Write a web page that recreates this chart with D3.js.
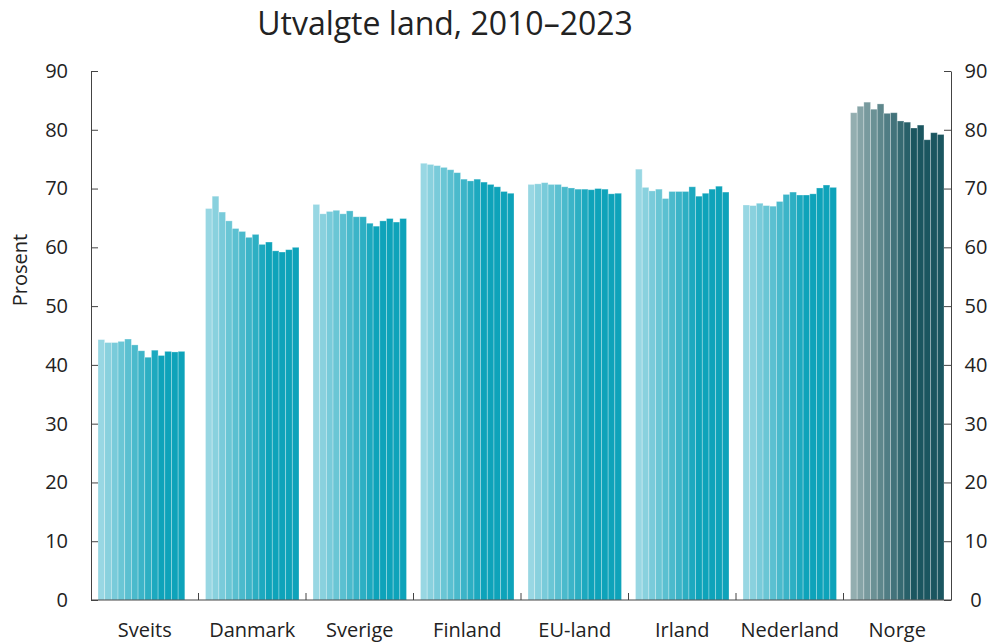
<!DOCTYPE html>
<html>
<head>
<meta charset="utf-8">
<script src="https://d3js.org/d3.v7.min.js"></script>
<style>
  body{ margin:0; background:#fff; }
  svg{ font-family:"Open Sans", sans-serif; }
  .axis path, .axis line{ stroke:#444; }
</style>
</head>
<body>
<svg id="chart" width="1002" height="642"></svg>
<script>
  // data
  var years = ["2010","2011","2012","2013","2014","2015","2016","2017","2018","2019","2020","2021","2022","2023"];
  var countries = ["Sveits","Danmark","Sverige","Finland","EU-land","Irland","Nederland","Norge"];
  var sveits    = [44.3, 43.8, 43.8, 44.0, 44.4, 43.4, 42.4, 41.3, 42.5, 41.6, 42.3, 42.2, 42.3];
  var danmark   = [66.6, 68.7, 66.0, 64.5, 63.2, 62.7, 61.7, 62.2, 60.5, 60.9, 59.4, 59.2, 59.6, 60.0];
  var sverige   = [67.3, 65.7, 66.1, 66.3, 65.7, 66.2, 65.2, 65.2, 64.1, 63.6, 64.5, 64.9, 64.3, 64.9];
  var finland   = [74.3, 74.1, 73.9, 73.6, 73.2, 72.7, 71.6, 71.3, 71.6, 71.1, 70.7, 70.3, 69.5, 69.2];
  var euland    = [70.7, 70.8, 71.0, 70.7, 70.7, 70.3, 70.1, 69.9, 69.9, 69.8, 70.0, 69.9, 69.1, 69.2];
  var irland    = [73.3, 70.2, 69.6, 69.9, 68.3, 69.5, 69.5, 69.5, 70.3, 68.7, 69.2, 69.9, 70.4, 69.4];
  var nederland = [67.2, 67.1, 67.5, 67.1, 67.0, 67.8, 69.0, 69.4, 68.9, 68.9, 69.1, 70.1, 70.6, 70.2];
  var norge     = [82.9, 84.0, 84.7, 83.5, 84.4, 82.8, 82.9, 81.5, 81.3, 80.3, 80.8, 78.3, 79.5, 79.2];
  var yTicks = [0,10,20,30,40,50,60,70,80,90];

  var seriesByCountry = {
    "Sveits":sveits, "Danmark":danmark, "Sverige":sverige, "Finland":finland,
    "EU-land":euland, "Irland":irland, "Nederland":nederland, "Norge":norge
  };

  var svg = d3.select("#chart");
  var mLeft = 91, mRight = 951, mTop = 71, mBottom = 600;

  var x0 = d3.scaleBand().domain(countries).range([mLeft, mRight]);
  var x1 = d3.scaleBand().domain(years).range([7, 100.5]);
  var y = d3.scaleLinear().domain([0, 90]).range([mBottom, mTop]);

  var teal = d3.interpolateRgb("#98d7e3", "#0ea3ba");
  var dark = d3.interpolateRgb("#93aeb0", "#1b5660");
  function barColor(country, i){
    var t = Math.min(i / 9, 1);
    return country == "Norge" ? dark(t) : teal(t);
  }

  var rows = [];
  countries.forEach(function(c){
    seriesByCountry[c].forEach(function(v, i){
      rows.push({country:c, year:years[i], idx:i, value:v});
    });
  });

  svg.append("g").selectAll("rect")
    .data(rows)
    .enter()
    .append("rect")
    .attr("x", function(d){ return x0(d.country) + x1(d.year); })
    .attr("y", function(d){ return y(d.value); })
    .attr("width", x1.bandwidth())
    .attr("height", function(d){ return y(0) - y(d.value); })
    .attr("fill", function(d){ return barColor(d.country, d.idx); })
    .attr("stroke", "rgba(255,255,255,0.35)")
    .attr("stroke-width", 0.8);

  // left axis, ticks pointing inward
  var gl = svg.append("g").attr("class","axis")
    .attr("transform","translate(" + mLeft + ",0)")
    .call(d3.axisLeft(y).tickValues(yTicks).tickSizeInner(-7).tickSizeOuter(0).tickPadding(23));
  gl.selectAll("text").style("font-size","20px").attr("fill","#222").attr("font-family","Open Sans");

  var gr = svg.append("g").attr("class","axis")
    .attr("transform","translate(" + mRight + ",0)")
    .call(d3.axisRight(y).tickValues(yTicks).tickSizeInner(-7).tickSizeOuter(0));
  gr.selectAll("text").style("font-size","20px").attr("fill","#222").attr("font-family","Open Sans")
    .attr("text-anchor","middle").attr("x", 25);

  // bottom axis
  svg.append("line")
    .attr("x1", mLeft).attr("x2", mRight).attr("y1", mBottom).attr("y2", mBottom)
    .attr("stroke", "#444");
  svg.append("g").selectAll("line")
    .data(countries.slice(1))
    .enter()
    .append("line")
    .attr("x1", function(d){ return x0(d); })
    .attr("x2", function(d){ return x0(d); })
    .attr("y1", mBottom).attr("y2", mBottom - 7)
    .attr("stroke", "#444");
  svg.append("g").selectAll("text")
    .data(countries)
    .enter()
    .append("text")
    .attr("x", function(d){ return x0(d) + x0.bandwidth()/2; })
    .attr("y", 637)
    .attr("text-anchor","middle")
    .style("font-size","20px")
    .attr("fill","#222")
    .text(function(d){ return d; });

  svg.append("text")
    .attr("transform","translate(27,270) rotate(-90)")
    .attr("text-anchor","middle")
    .style("font-size","20px")
    .attr("fill","#222")
    .text("Prosent");

  svg.append("text")
    .attr("x", 445).attr("y", 35)
    .attr("text-anchor","middle")
    .style("font-size","32px")
    .attr("fill","#222")
    .text("Utvalgte land, 2010–2023");
</script>
</body>
</html>
